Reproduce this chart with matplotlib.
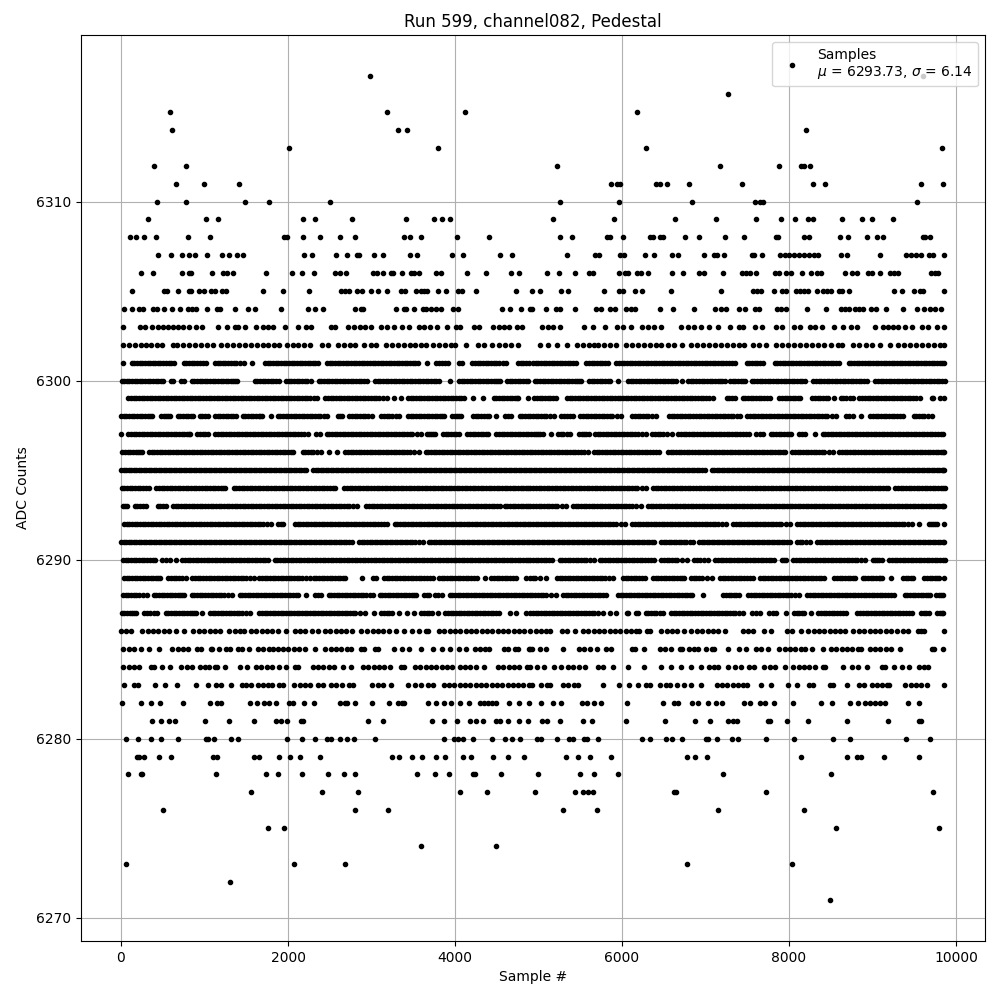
import numpy as np
import matplotlib
matplotlib.use("Agg")
import matplotlib.pyplot as plt

# sample numbers at each ADC level
s6317 = [2976, 9600]
s6316 = [7268]
s6315 = [588, 3180, 4116, 6176]
s6314 = [612, 3312, 3420, 8204]
s6313 = [2016, 3792, 6284, 9836]
s6312 = [396, 780, 5216, 7172, 7880, 8144, 8180, 8252]
s6311 = [660, 996, 1416, 5864, 5936, 5972, 6404, 6452, 6536, 6800, 7436, 8288, 8432, 9584, 9848]
s6310 = [432, 780, 1488, 1776, 2508, 5252, 5960, 6836, 7592, 7652, 7688, 9536]
s6309 = [324, 1020, 1164, 2184, 2328, 2772, 3408, 3744, 3840, 3936, 5168, 5900, 6632, 7124, 7604, 7904, 8072, 8228,
         8288, 8636, 8876, 8996, 9248]
s6308 = [108, 180, 276, 420, 804, 1068, 1956, 1992, 2184, 2388, 2628, 2808, 3392, 3456, 3588, 4020, 4404, 5252, 5396,
         5816, 5852, 6008, 6332, 6368, 6452, 6488, 6752, 6920, 7232, 7460, 7844, 7868, 8180, 8240, 8612, 8708, 8936,
         9056, 9128, 9608, 9632, 9692]
s6307 = [444, 600, 732, 816, 888, 1032, 1212, 1296, 1392, 1464, 2196, 2292, 2580, 2712, 2832, 2856, 3024, 3132, 3456,
         3540, 3960, 4092, 4536, 4680, 5336, 5672, 5720, 5972, 6020, 6272, 6380, 6596, 6668, 6980, 7100, 7136, 7220,
         7556, 7580, 7676, 7892, 7952, 8000, 8060, 8120, 8180, 8240, 8300, 8348, 8624, 8696, 9092, 9404, 9464, 9524,
         9584, 9680, 9728, 9860]
s6306 = [240, 384, 732, 816, 840, 1092, 1224, 1272, 1344, 1740, 2052, 2172, 2316, 2568, 2628, 2700, 3012, 3060, 3132,
         3228, 3252, 3360, 3468, 3504, 3564, 3768, 3828, 4140, 4368, 4668, 4764, 5096, 5240, 5432, 5600, 5648, 5960,
         6032, 6068, 6176, 6224, 6308, 6596, 6728, 6920, 6980, 7208, 7436, 7484, 7532, 7604, 7832, 7880, 7964, 8024,
         8156, 8264, 8336, 8384, 8672, 8756, 8816, 8948, 8996, 9092, 9212, 9260, 9308, 9704, 9752, 9788]
s6305 = [132, 516, 552, 684, 816, 840, 936, 996, 1080, 1128, 1212, 1260, 1704, 1944, 2256, 2640, 2688, 2736, 2832,
         2892, 2988, 3072, 3180, 3348, 3396, 3528, 3588, 3624, 3660, 3792, 3888, 4032, 4080, 4248, 4728, 4928, 5012,
         5264, 5348, 5780, 5960, 6008, 6152, 6236, 6584, 7184, 7568, 7616, 7664, 7820, 7916, 7964, 8084, 8132, 8180,
         8228, 8336, 8408, 8456, 8504, 8600, 8636, 8720, 9260, 9356, 9500, 9572, 9608, 9860]
s6304 = [36, 132, 216, 264, 384, 432, 516, 612, 708, 804, 852, 900, 1032, 1152, 1188, 1368, 1524, 1608, 1920, 2244,
         2328, 2424, 2808, 2880, 2904, 3288, 3384, 3408, 3504, 3612, 3648, 3708, 3768, 3828, 3972, 4032, 4560, 4656,
         4788, 4896, 4928, 5084, 5204, 5252, 5432, 5684, 5744, 5852, 5912, 6044, 6104, 6152, 6452, 6608, 6860, 7112,
         7184, 7244, 7400, 7472, 7592, 7640, 7856, 7904, 7964, 8216, 8448, 8624, 8672, 8720, 8792, 8840, 8888, 8984,
         9044, 9164, 9368, 9536, 9620, 9692, 9752, 9824]
s6303 = [24, 228, 288, 372, 444, 504, 564, 624, 684, 744, 816, 900, 972, 1164, 1272, 1368, 1404, 1488, 1620, 1704,
         1764, 1824, 1968, 2124, 2220, 2280, 2520, 2568, 2724, 2796, 2868, 2928, 2988, 3108, 3180, 3264, 3360, 3444,
         3564, 3624, 3696, 3780, 3900, 4008, 4056, 4224, 4284, 4452, 4524, 4584, 4644, 4740, 4800, 5036, 5108, 5168,
         5252, 5540, 5648, 5792, 5936, 6008, 6104, 6236, 6308, 6380, 6464, 6704, 6788, 6860, 6944, 7040, 7148, 7292,
         7400, 7448, 7592, 7676, 7844, 7916, 8060, 8132, 8252, 8312, 8396, 8540, 8648, 8744, 8816, 9032, 9128, 9188,
         9248, 9308, 9392, 9476, 9588, 9668, 9776, 9860]
s6302 = [24, 96, 168, 240, 300, 364, 432, 492, 624, 672, 744, 816, 888, 960, 1032, 1104, 1200, 1272, 1344, 1416, 1488,
         1560, 1632, 1704, 1764, 1836, 1896, 1992, 2064, 2124, 2196, 2268, 2412, 2484, 2604, 2676, 2748, 2808, 2916,
         2988, 3048, 3168, 3240, 3312, 3384, 3456, 3516, 3588, 3648, 3732, 3804, 3876, 3948, 3996, 4128, 4272, 4344,
         4440, 4524, 4596, 4668, 4752, 5012, 5108, 5216, 5336, 5456, 5528, 5600, 5660, 5708, 5780, 5852, 5924, 6044,
         6116, 6188, 6260, 6332, 6404, 6464, 6548, 6620, 6716, 6824, 6896, 6968, 7040, 7112, 7184, 7256, 7328, 7400,
         7460, 7568, 7640, 7724, 7844, 7916, 7988, 8060, 8132, 8204, 8276, 8348, 8420, 8504, 8588, 8636, 8768, 8840,
         8924, 8996, 9092, 9212, 9308, 9380, 9452, 9524, 9596, 9668, 9740, 9812, 9860]
s6301 = [24, 128, 190, 252, 318, 380, 440, 506, 570, 640, 752, 816, 880, 948, 1012, 1124, 1188, 1250, 1316, 1380, 1472,
         1572, 1724, 1790, 1852, 1916, 1980, 2044, 2108, 2172, 2236, 2300, 2356, 2468, 2532, 2596, 2660, 2724, 2788,
         2852, 2916, 2980, 3044, 3108, 3172, 3236, 3300, 3364, 3428, 3492, 3556, 3660, 3776, 3840, 3912, 4052, 4080,
         4208, 4272, 4336, 4400, 4464, 4528, 4612, 4756, 4820, 4884, 4932, 4996, 5060, 5124, 5188, 5252, 5316, 5380,
         5448, 5572, 5636, 5700, 5764, 5828, 5932, 5996, 6060, 6124, 6188, 6252, 6316, 6380, 6444, 6508, 6572, 6636,
         6700, 6764, 6828, 6892, 6956, 7020, 7084, 7148, 7212, 7276, 7356, 7492, 7556, 7620, 7692, 7828, 7892, 7956,
         8020, 8084, 8148, 8212, 8276, 8340, 8404, 8468, 8532, 8604, 8716, 8780, 8844, 8908, 8972, 9036, 9100, 9164,
         9228, 9292, 9356, 9420, 9484, 9548, 9612, 9676, 9740, 9804, 9856]
s6300 = [8, 70, 132, 194, 256, 320, 382, 444, 504, 596, 624, 716, 760, 848, 910, 972, 1034, 1096, 1160, 1222, 1284,
         1346, 1392, 1600, 1664, 1728, 1792, 1860, 1888, 1976, 2040, 2104, 2168, 2232, 2272, 2368, 2432, 2496, 2560,
         2624, 2688, 2752, 2816, 2880, 2952, 3040, 3104, 3168, 3232, 3296, 3360, 3424, 3488, 3552, 3616, 3680, 3744,
         3812, 3936, 4048, 4112, 4176, 4240, 4304, 4368, 4432, 4496, 4544, 4624, 4688, 4752, 4816, 4880, 4952, 5016,
         5080, 5144, 5208, 5272, 5336, 5400, 5464, 5508, 5604, 5668, 5732, 5796, 5860, 5956, 6072, 6136, 6200, 6264,
         6328, 6392, 6456, 6520, 6584, 6648, 6720, 6792, 6856, 6920, 6984, 7048, 7112, 7176, 7228, 7292, 7356, 7420,
         7468, 7552, 7616, 7680, 7744, 7808, 7872, 7936, 8000, 8064, 8128, 8188, 8292, 8356, 8420, 8484, 8548, 8612,
         8676, 8740, 8804, 8868, 8928, 9032, 9096, 9160, 9224, 9288, 9352, 9416, 9480, 9544, 9608, 9672, 9736, 9800,
         9868]
s6299 = [88, 152, 216, 280, 344, 408, 472, 536, 600, 664, 728, 792, 856, 920, 984, 1048, 1112, 1176, 1240, 1304, 1368,
         1432, 1496, 1560, 1624, 1688, 1752, 1816, 1880, 1944, 2008, 2072, 2136, 2200, 2264, 2352, 2448, 2512, 2576,
         2640, 2704, 2768, 2832, 2896, 2960, 3024, 3088, 3184, 3264, 3352, 3436, 3500, 3564, 3628, 3692, 3756, 3820,
         3884, 3948, 4012, 4076, 4112, 4212, 4332, 4464, 4528, 4592, 4656, 4720, 4760, 4880, 4948, 5012, 5076, 5140,
         5208, 5340, 5404, 5468, 5532, 5596, 5660, 5724, 5788, 5852, 5916, 5980, 6044, 6108, 6172, 6236, 6300, 6364,
         6428, 6492, 6556, 6620, 6684, 6748, 6812, 6876, 6940, 7004, 7088, 7252, 7316, 7348, 7444, 7508, 7572, 7636,
         7700, 7768, 7884, 7948, 8012, 8076, 8128, 8280, 8344, 8408, 8468, 8540, 8620, 8684, 8768, 8844, 8908, 8972,
         9036, 9100, 9164, 9228, 9292, 9356, 9420, 9484, 9568, 9712, 9728, 9812, 9860]
s6298 = [0, 64, 128, 192, 256, 320, 372, 484, 540, 592, 680, 744, 808, 864, 944, 1000, 1040, 1124, 1188, 1252, 1316,
         1372, 1456, 1520, 1584, 1648, 1692, 1792, 1876, 1940, 2004, 2068, 2132, 2196, 2260, 2324, 2388, 2464, 2596,
         2652, 2736, 2800, 2864, 2928, 3000, 3116, 3180, 3244, 3332, 3436, 3500, 3564, 3628, 3692, 3756, 3820, 3872,
         3968, 4020, 4072, 4216, 4280, 4344, 4412, 4496, 4600, 4672, 4776, 4840, 4900, 4964, 5028, 5092, 5188, 5272,
         5340, 5408, 5500, 5564, 5628, 5692, 5756, 5820, 5884, 5988, 6124, 6188, 6252, 6316, 6408, 6564, 6628, 6692,
         6756, 6820, 6884, 6948, 7012, 7076, 7140, 7204, 7268, 7332, 7412, 7500, 7564, 7628, 7692, 7756, 7820, 7884,
         7948, 8012, 8076, 8140, 8204, 8268, 8332, 8396, 8460, 8568, 8680, 8768, 8864, 8972, 9036, 9100, 9164, 9228,
         9292, 9368, 9492, 9556, 9620, 9708]
s6297 = [0, 88, 152, 216, 280, 344, 408, 472, 536, 600, 664, 728, 792, 832, 916, 980, 1040, 1128, 1192, 1256, 1320,
         1384, 1448, 1512, 1576, 1640, 1704, 1768, 1832, 1896, 1960, 2024, 2088, 2152, 2240, 2336, 2384, 2464, 2528,
         2592, 2656, 2720, 2784, 2848, 2912, 2976, 3040, 3104, 3168, 3232, 3296, 3360, 3424, 3488, 3592, 3664, 3712,
         3760, 3856, 3920, 3984, 4044, 4148, 4212, 4276, 4340, 4400, 4496, 4560, 4624, 4688, 4752, 4816, 4880, 4940,
         4996, 5048, 5144, 5232, 5296, 5380, 5484, 5548, 5600, 5676, 5740, 5804, 5868, 5932, 5996, 6060, 6124, 6188,
         6288, 6364, 6428, 6492, 6596, 6676, 6740, 6804, 6868, 6932, 6996, 7060, 7124, 7188, 7252, 7316, 7380, 7444,
         7516, 7604, 7648, 7688, 7780, 7844, 7908, 7972, 8028, 8120, 8188, 8316, 8404, 8468, 8532, 8596, 8660, 8724,
         8788, 8852, 8916, 8980, 9044, 9108, 9172, 9236, 9300, 9364, 9428, 9492, 9556, 9620, 9684, 9748, 9848]
s6296 = [16, 80, 144, 208, 248, 336, 400, 464, 528, 592, 656, 720, 784, 848, 912, 976, 1040, 1104, 1168, 1232, 1296,
         1360, 1424, 1488, 1552, 1616, 1680, 1744, 1808, 1872, 1936, 2000, 2064, 2176, 2240, 2304, 2400, 2496, 2592,
         2688, 2752, 2816, 2880, 2944, 3008, 3072, 3136, 3200, 3264, 3328, 3392, 3456, 3564, 3648, 3712, 3776, 3840,
         3904, 3968, 4032, 4096, 4160, 4224, 4288, 4352, 4416, 4480, 4544, 4608, 4672, 4736, 4800, 4864, 4928, 4992,
         5056, 5120, 5184, 5248, 5312, 5376, 5440, 5504, 5588, 5664, 5728, 5792, 5856, 5920, 5984, 6048, 6112, 6176,
         6240, 6304, 6368, 6440, 6552, 6616, 6680, 6744, 6808, 6872, 6936, 7000, 7064, 7128, 7192, 7256, 7320, 7384,
         7448, 7512, 7576, 7640, 7704, 7768, 7832, 7896, 7956, 8040, 8104, 8168, 8232, 8296, 8360, 8424, 8524, 8604,
         8668, 8732, 8796, 8860, 8924, 8988, 9052, 9116, 9180, 9244, 9308, 9372, 9436, 9500, 9564, 9628, 9692, 9756,
         9820, 9860]
s6295 = [0, 60, 120, 180, 240, 300, 360, 420, 480, 540, 600, 660, 720, 780, 840, 900, 960, 1020, 1080, 1140, 1200,
         1260, 1320, 1380, 1440, 1500, 1560, 1620, 1680, 1740, 1800, 1860, 1920, 1980, 2040, 2100, 2160, 2220, 2304,
         2364, 2424, 2484, 2544, 2604, 2664, 2724, 2784, 2844, 2904, 2964, 3024, 3084, 3144, 3204, 3264, 3324, 3384,
         3444, 3504, 3564, 3624, 3684, 3744, 3804, 3864, 3924, 3984, 4044, 4104, 4164, 4224, 4284, 4344, 4404, 4464,
         4524, 4584, 4644, 4704, 4764, 4824, 4884, 4944, 5004, 5064, 5124, 5184, 5244, 5304, 5364, 5424, 5484, 5544,
         5604, 5664, 5724, 5784, 5844, 5904, 5964, 6024, 6084, 6144, 6204, 6264, 6324, 6384, 6444, 6504, 6564, 6624,
         6684, 6744, 6804, 6864, 6924, 6988, 7072, 7132, 7192, 7252, 7312, 7372, 7432, 7492, 7552, 7612, 7672, 7732,
         7792, 7852, 7912, 7972, 8032, 8092, 8152, 8212, 8272, 8332, 8392, 8452, 8512, 8572, 8632, 8692, 8752, 8812,
         8872, 8932, 8992, 9052, 9112, 9172, 9232, 9292, 9352, 9412, 9472, 9532, 9592, 9652, 9712, 9772, 9832, 9860]
s6294 = [8, 72, 136, 200, 264, 332, 424, 488, 552, 616, 680, 744, 808, 872, 936, 1000, 1064, 1128, 1192, 1248, 1348,
         1412, 1476, 1540, 1604, 1668, 1732, 1796, 1860, 1924, 1988, 2052, 2116, 2180, 2244, 2308, 2372, 2436, 2500,
         2568, 2676, 2740, 2804, 2868, 2932, 2996, 3060, 3124, 3188, 3252, 3316, 3380, 3444, 3508, 3572, 3636, 3700,
         3764, 3828, 3892, 3956, 4020, 4084, 4148, 4212, 4276, 4340, 4404, 4468, 4532, 4596, 4660, 4724, 4788, 4852,
         4904, 4968, 5032, 5096, 5160, 5224, 5288, 5352, 5416, 5480, 5544, 5608, 5672, 5736, 5800, 5864, 5928, 5992,
         6056, 6120, 6184, 6288, 6372, 6436, 6500, 6564, 6628, 6692, 6756, 6820, 6884, 6948, 7012, 7076, 7140, 7204,
         7268, 7332, 7396, 7460, 7524, 7588, 7652, 7716, 7780, 7844, 7908, 7972, 8036, 8100, 8164, 8228, 8292, 8356,
         8420, 8484, 8548, 8612, 8676, 8740, 8804, 8868, 8932, 8996, 9060, 9124, 9188, 9272, 9336, 9400, 9464, 9528,
         9592, 9656, 9720, 9784, 9848, 9868]
s6293 = [28, 76, 164, 228, 300, 444, 500, 544, 624, 688, 752, 816, 880, 944, 1008, 1072, 1136, 1200, 1264, 1328, 1392,
         1456, 1520, 1584, 1648, 1712, 1776, 1840, 1904, 1968, 2032, 2096, 2160, 2224, 2288, 2352, 2416, 2480, 2544,
         2608, 2672, 2736, 2824, 2936, 3000, 3064, 3128, 3192, 3256, 3320, 3384, 3448, 3512, 3576, 3640, 3704, 3768,
         3832, 3896, 3960, 4024, 4088, 4152, 4216, 4280, 4344, 4408, 4472, 4544, 4596, 4660, 4724, 4788, 4852, 4904,
         4968, 5032, 5096, 5160, 5224, 5328, 5412, 5476, 5540, 5604, 5668, 5732, 5796, 5860, 5924, 5988, 6052, 6116,
         6228, 6312, 6376, 6440, 6504, 6568, 6632, 6696, 6760, 6824, 6888, 6952, 7016, 7080, 7144, 7208, 7272, 7336,
         7400, 7464, 7528, 7592, 7656, 7720, 7784, 7848, 7912, 7976, 8040, 8104, 8168, 8232, 8296, 8360, 8424, 8488,
         8552, 8616, 8680, 8744, 8808, 8872, 8936, 9000, 9064, 9128, 9192, 9256, 9320, 9384, 9448, 9512, 9576, 9640,
         9704, 9768, 9832, 9860]
s6292 = [36, 100, 164, 228, 292, 356, 420, 484, 548, 612, 676, 740, 804, 868, 932, 996, 1060, 1124, 1188, 1252, 1316,
         1380, 1444, 1508, 1572, 1636, 1700, 1796, 1884, 1944, 2084, 2148, 2212, 2276, 2340, 2404, 2468, 2532, 2596,
         2660, 2724, 2788, 2852, 2916, 2980, 3044, 3108, 3184, 3276, 3340, 3404, 3468, 3532, 3596, 3660, 3724, 3788,
         3852, 3916, 3980, 4044, 4108, 4172, 4236, 4300, 4364, 4428, 4492, 4556, 4620, 4684, 4748, 4812, 4876, 4900,
         4964, 5028, 5092, 5156, 5220, 5284, 5348, 5412, 5476, 5540, 5604, 5668, 5732, 5796, 5860, 5924, 6040, 6124,
         6188, 6252, 6316, 6380, 6444, 6508, 6572, 6636, 6700, 6764, 6828, 6892, 6956, 7020, 7084, 7148, 7248, 7332,
         7396, 7460, 7524, 7588, 7652, 7716, 7780, 7844, 7908, 8008, 8100, 8164, 8228, 8292, 8356, 8420, 8484, 8548,
         8612, 8676, 8740, 8804, 8868, 8932, 8996, 9060, 9124, 9188, 9252, 9316, 9380, 9468, 9552, 9676, 9724, 9772,
         9860]
s6291 = [0, 60, 120, 180, 240, 300, 360, 420, 480, 540, 600, 660, 720, 780, 840, 900, 960, 1020, 1080, 1140, 1200,
         1260, 1320, 1380, 1440, 1500, 1560, 1620, 1680, 1740, 1800, 1860, 1920, 1980, 2040, 2100, 2160, 2220, 2280,
         2340, 2400, 2460, 2520, 2580, 2640, 2700, 2772, 2856, 2916, 2976, 3036, 3096, 3156, 3216, 3276, 3336, 3396,
         3456, 3516, 3612, 3688, 3748, 3808, 3868, 3928, 3988, 4048, 4108, 4168, 4228, 4288, 4348, 4408, 4468, 4528,
         4588, 4648, 4708, 4768, 4828, 4888, 4948, 5008, 5068, 5128, 5188, 5248, 5308, 5368, 5428, 5488, 5548, 5608,
         5668, 5728, 5788, 5848, 5908, 5968, 6028, 6088, 6148, 6208, 6268, 6328, 6388, 6472, 6532, 6592, 6652, 6712,
         6772, 6848, 6924, 6984, 7044, 7104, 7164, 7224, 7284, 7344, 7404, 7464, 7524, 7584, 7644, 7704, 7764, 7824,
         7884, 7944, 8008, 8100, 8160, 8248, 8340, 8400, 8460, 8520, 8580, 8640, 8700, 8760, 8820, 8880, 8940, 9000,
         9060, 9120, 9180, 9240, 9300, 9360, 9420, 9480, 9540, 9600, 9660, 9720, 9780, 9840, 9860]
s6290 = [24, 88, 152, 216, 280, 344, 412, 492, 592, 656, 736, 800, 864, 928, 992, 1056, 1120, 1184, 1248, 1312, 1376,
         1440, 1504, 1568, 1632, 1696, 1760, 1840, 1904, 1968, 2032, 2096, 2160, 2224, 2288, 2352, 2416, 2480, 2544,
         2608, 2672, 2736, 2800, 2864, 2928, 2992, 3056, 3120, 3184, 3248, 3312, 3376, 3440, 3504, 3568, 3632, 3696,
         3760, 3824, 3888, 3952, 4016, 4080, 4144, 4208, 4272, 4336, 4400, 4464, 4528, 4592, 4656, 4720, 4784, 4848,
         4900, 4964, 5028, 5092, 5156, 5252, 5316, 5380, 5444, 5508, 5572, 5660, 5732, 5796, 5860, 5924, 5988, 6052,
         6116, 6180, 6244, 6308, 6388, 6472, 6536, 6600, 6664, 6776, 6864, 6928, 7028, 7116, 7180, 7244, 7308, 7372,
         7436, 7500, 7564, 7628, 7692, 7756, 7820, 7912, 7968, 8052, 8116, 8180, 8244, 8308, 8372, 8436, 8500, 8564,
         8628, 8692, 8756, 8820, 8908, 9000, 9056, 9108, 9200, 9264, 9328, 9392, 9456, 9520, 9584, 9648, 9712, 9776,
         9840, 9868]
s6289 = [36, 100, 164, 228, 292, 356, 420, 464, 568, 632, 696, 776, 856, 920, 984, 1048, 1112, 1176, 1240, 1304, 1368,
         1432, 1496, 1592, 1656, 1720, 1784, 1848, 1912, 1976, 2040, 2104, 2168, 2264, 2308, 2372, 2436, 2500, 2564,
         2628, 2688, 2892, 3016, 3052, 3148, 3212, 3276, 3340, 3404, 3468, 3532, 3596, 3660, 3732, 3808, 3872, 3936,
         4000, 4064, 4128, 4192, 4264, 4356, 4436, 4500, 4564, 4628, 4692, 4732, 4848, 4900, 4960, 5020, 5088, 5220,
         5284, 5348, 5412, 5476, 5540, 5604, 5668, 5732, 5796, 5888, 6012, 6076, 6140, 6204, 6276, 6372, 6436, 6500,
         6564, 6628, 6692, 6740, 6828, 6892, 6956, 7076, 7172, 7236, 7300, 7364, 7428, 7492, 7568, 7652, 7716, 7780,
         7844, 7908, 7972, 8036, 8100, 8164, 8228, 8292, 8356, 8420, 8544, 8608, 8672, 8736, 8788, 8880, 8944, 9008,
         9072, 9116, 9220, 9364, 9428, 9488, 9620, 9684, 9748, 9796, 9860]
s6288 = [24, 88, 152, 216, 312, 392, 456, 520, 584, 648, 712, 760, 848, 912, 976, 1040, 1104, 1168, 1232, 1332, 1420,
         1484, 1548, 1612, 1676, 1740, 1804, 1868, 1932, 1996, 2060, 2124, 2220, 2320, 2400, 2488, 2552, 2616, 2680,
         2744, 2808, 2872, 2936, 3016, 3096, 3160, 3224, 3288, 3352, 3416, 3480, 3528, 3628, 3692, 3756, 3840, 3936,
         4000, 4064, 4128, 4192, 4256, 4320, 4384, 4448, 4512, 4576, 4640, 4704, 4768, 4832, 4896, 4960, 5024, 5088,
         5208, 5292, 5356, 5420, 5484, 5548, 5612, 5676, 5740, 5808, 5952, 6016, 6080, 6144, 6208, 6272, 6336, 6400,
         6464, 6528, 6592, 6656, 6720, 6784, 6840, 6972, 7212, 7276, 7340, 7396, 7512, 7576, 7640, 7704, 7768, 7832,
         7896, 7960, 8024, 8120, 8220, 8284, 8348, 8412, 8476, 8540, 8604, 8668, 8732, 8796, 8860, 8924, 8988, 9052,
         9116, 9180, 9260, 9384, 9448, 9512, 9576, 9640, 9688, 9760, 9848]
s6287 = [8, 72, 136, 184, 280, 344, 436, 536, 600, 664, 728, 792, 856, 900, 972, 1064, 1128, 1192, 1256, 1320, 1384,
         1448, 1540, 1656, 1720, 1784, 1848, 1912, 1976, 2040, 2104, 2168, 2232, 2296, 2360, 2424, 2488, 2552, 2616,
         2680, 2744, 2808, 2920, 3024, 3116, 3180, 3244, 3332, 3424, 3508, 3596, 3660, 3724, 3792, 3884, 3948, 4012,
         4076, 4140, 4204, 4268, 4332, 4396, 4460, 4532, 4656, 4728, 4848, 4900, 4964, 5028, 5092, 5156, 5220, 5284,
         5348, 5412, 5476, 5540, 5604, 5668, 5768, 5860, 5928, 6060, 6068, 6172, 6188, 6284, 6348, 6412, 6496, 6588,
         6652, 6716, 6780, 6844, 6908, 6972, 7036, 7100, 7164, 7228, 7292, 7356, 7448, 7552, 7648, 7760, 7848, 7960,
         8060, 8124, 8180, 8268, 8352, 8416, 8480, 8544, 8608, 8688, 8820, 8884, 8948, 9012, 9076, 9140, 9204, 9268,
         9332, 9396, 9468, 9580, 9644, 9680, 9772, 9848]
s6286 = [0, 60, 120, 256, 320, 384, 448, 512, 576, 664, 752, 868, 932, 996, 1060, 1124, 1188, 1292, 1368, 1420, 1472,
         1556, 1620, 1684, 1748, 1812, 1876, 1972, 2084, 2140, 2200, 2288, 2360, 2444, 2508, 2572, 2636, 2700, 2764,
         2872, 2948, 3012, 3076, 3140, 3204, 3292, 3392, 3484, 3564, 3648, 3672, 3808, 3872, 3936, 4000, 4064, 4128,
         4192, 4256, 4320, 4384, 4448, 4512, 4576, 4640, 4704, 4768, 4832, 4896, 4964, 5028, 5092, 5140, 5284, 5340,
         5432, 5532, 5596, 5660, 5724, 5788, 5852, 5916, 5980, 6044, 6108, 6168, 6200, 6304, 6340, 6472, 6536, 6600,
         6664, 6748, 6832, 6896, 6960, 7024, 7088, 7152, 7228, 7444, 7508, 7568, 7700, 7788, 7972, 8036, 8148, 8232,
         8296, 8360, 8424, 8488, 8552, 8616, 8668, 8772, 8836, 8900, 8964, 9028, 9092, 9156, 9220, 9288, 9364, 9420,
         9540, 9580, 9620, 9860]
s6285 = [28, 92, 156, 244, 336, 456, 616, 680, 744, 808, 916, 964, 1080, 1092, 1176, 1256, 1308, 1396, 1452, 1536,
         1640, 1704, 1768, 1824, 1876, 1940, 2004, 2068, 2132, 2200, 2324, 2448, 2512, 2576, 2640, 2704, 2752, 2876,
         2912, 3040, 3080, 3264, 3360, 3444, 3588, 3736, 3840, 3936, 4048, 4128, 4236, 4300, 4364, 4412, 4592, 4640,
         4716, 4760, 4884, 4900, 4928, 5020, 5088, 5288, 5484, 5548, 5612, 5696, 5804, 5870, 6120, 6156, 6268, 6452,
         6516, 6588, 6700, 6716, 6804, 6860, 6908, 7000, 7072, 7100, 7268, 7400, 7480, 7604, 7660, 7748, 7884, 7948,
         8012, 8076, 8140, 8196, 8280, 8412, 8504, 8568, 8632, 8696, 8760, 8824, 8868, 8964, 9028, 9092, 9156, 9216,
         9332, 9712, 9740, 9840]
s6284 = [28, 92, 156, 220, 364, 396, 492, 588, 724, 788, 856, 944, 1000, 1048, 1128, 1152, 1248, 1424, 1512, 1616,
         1680, 1744, 1808, 1888, 1980, 2088, 2116, 2296, 2360, 2424, 2488, 2552, 2664, 2760, 2896, 2960, 3024, 3088,
         3152, 3224, 3356, 3384, 3520, 3584, 3648, 3712, 3776, 3840, 3900, 3960, 4056, 4120, 4184, 4248, 4344, 4516,
         4580, 4644, 4708, 4772, 4864, 4900, 4984, 5068, 5184, 5268, 5352, 5416, 5480, 5556, 5712, 5776, 5888, 6068,
         6260, 6464, 6584, 6704, 6824, 6940, 7044, 7100, 7148, 7272, 7348, 7424, 7524, 7576, 7704, 7768, 7828, 7952,
         8052, 8116, 8180, 8244, 8308, 8412, 8428, 8648, 8752, 8828, 8932, 9108, 9148, 9260, 9352, 9436, 9560, 9612,
         9664]
s6283 = [36, 156, 204, 408, 528, 668, 900, 1044, 1140, 1200, 1320, 1444, 1500, 1552, 1636, 1700, 1764, 1812, 1892,
         1944, 2076, 2140, 2204, 2268, 2364, 2424, 2520, 2580, 2652, 2736, 2784, 3000, 3080, 3140, 3228, 3436, 3520,
         3588, 3672, 3736, 3864, 3928, 3992, 4056, 4120, 4184, 4248, 4312, 4376, 4440, 4504, 4568, 4632, 4696, 4760,
         4816, 4884, 4928, 5032, 5096, 5140, 5292, 5356, 5420, 5476, 5768, 5960, 6084, 6188, 6292, 6332, 6460, 6532,
         6572, 6656, 6740, 6828, 6944, 7132, 7196, 7260, 7324, 7388, 7452, 7492, 7660, 7788, 7988, 8096, 8240, 8284,
         8492, 8532, 8700, 8836, 8892, 8996, 9052, 9112, 9172, 9192, 9392, 9456, 9520, 9584, 9652, 9860]
s6282 = [12, 240, 360, 468, 744, 1068, 1152, 1200, 1540, 1624, 1708, 1776, 1860, 2016, 2064, 2196, 2316, 2628, 2688,
         2712, 2804, 3000, 3204, 3316, 3360, 3384, 3672, 3768, 3864, 3948, 4056, 4164, 4296, 4344, 4392, 4444, 4492,
         4644, 4764, 4884, 5024, 5168, 5264, 5516, 5576, 5660, 5744, 6056, 6496, 6620, 6668, 6836, 6908, 7028, 7124,
         7196, 7460, 7532, 7652, 7712, 7820, 8048, 8388, 8516, 8732, 8828, 8912, 8972, 9032, 9092, 9152, 9428, 9560]
s6281 = [372, 480, 576, 648, 1008, 1296, 1588, 1860, 1920, 1992, 2160, 2184, 2964, 3132, 3720, 3864, 4020, 4176, 4248,
         4332, 4488, 4536, 4632, 4764, 4872, 5044, 5100, 5252, 5528, 5636, 6044, 6512, 6872, 7052, 7268, 7328, 7380,
         7748, 7772, 7976, 8228, 8696, 9188, 9560, 9584]
s6280 = [60, 204, 360, 480, 684, 1020, 1044, 1116, 1320, 1404, 1992, 2172, 2328, 2472, 2520, 2628, 2712, 2796, 3036,
         3864, 3984, 4032, 4092, 4212, 4440, 4596, 4684, 4780, 4976, 5024, 5216, 5360, 5408, 5540, 5576, 5708, 6236,
         6332, 6524, 6596, 6716, 7004, 7028, 7136, 7316, 7388, 7724, 8060, 8528, 8732, 9404, 9692]
s6279 = [192, 216, 276, 456, 600, 1104, 1152, 1596, 1656, 1896, 2028, 2148, 2388, 3240, 3324, 3480, 3600, 3768, 3876,
         4092, 4188, 4452, 4632, 4824, 5328, 5468, 5612, 5864, 6776, 6872, 7016, 8144, 8696, 8816, 8864, 9140, 9560]
s6278 = [84, 240, 252, 1140, 1740, 1884, 2172, 2484, 2676, 2808, 3540, 3756, 3924, 4212, 4236, 4548, 4988, 5492, 5660,
         5948, 7208, 8504]
s6277 = [1560, 2412, 2844, 4056, 4380, 4952, 5432, 5528, 5588, 5648, 6620, 6644, 7724, 9728]
s6276 = [504, 2808, 3192, 5288, 5696, 7148, 8180]
s6275 = [1764, 1956, 8564, 9800]
s6274 = [3588, 4488]
s6273 = [60, 2076, 2688, 6776, 8036]
s6272 = [1308]
s6271 = [8492]

# further samples packed into the solid runs of the busiest levels
d6301 = [160, 222, 285, 350, 412, 472, 538, 604, 784, 848, 914, 980, 1156, 1220, 1284, 1348, 1426, 1756, 1820, 1884,
         1948, 2012, 2076, 2140, 2204, 2268, 2328, 2500, 2564, 2628, 2692, 2756, 2820, 2884, 2948, 3012, 3076, 3140,
         3204, 3268, 3332, 3396, 3460, 3524, 3808, 3876, 4240, 4304, 4368, 4432, 4496, 4570, 4788, 4852, 4964, 5028,
         5092, 5156, 5220, 5284, 5348, 5414, 5604, 5668, 5732, 5796, 5964, 6028, 6092, 6156, 6220, 6284, 6348, 6412,
         6476, 6540, 6604, 6668, 6732, 6796, 6860, 6924, 6988, 7052, 7116, 7180, 7244, 7316, 7524, 7588, 7656, 7860,
         7924, 7988, 8052, 8116, 8180, 8244, 8308, 8372, 8436, 8500, 8568, 8748, 8812, 8876, 8940, 9004, 9068, 9132,
         9196, 9260, 9324, 9388, 9452, 9516, 9580, 9644, 9708, 9772, 9830]
d6300 = [40, 100, 164, 226, 288, 350, 414, 474, 880, 942, 1004, 1066, 1128, 1192, 1254, 1316, 1370, 1632, 1696, 1760,
         1824, 2008, 2072, 2136, 2200, 2400, 2464, 2528, 2592, 2656, 2720, 2784, 2848, 2916, 3072, 3136, 3200, 3264,
         3328, 3392, 3456, 3520, 3584, 3648, 3712, 3778, 4080, 4144, 4208, 4272, 4336, 4400, 4464, 4520, 4656, 4720,
         4784, 4848, 4984, 5048, 5112, 5176, 5240, 5304, 5368, 5432, 5486, 5636, 5700, 5764, 5828, 6104, 6168, 6232,
         6296, 6360, 6424, 6488, 6552, 6616, 6824, 6888, 6952, 7016, 7080, 7144, 7202, 7324, 7388, 7444, 7584, 7648,
         7712, 7776, 7840, 7904, 7968, 8032, 8096, 8158, 8324, 8388, 8452, 8516, 8580, 8644, 8708, 8772, 8836, 8898,
         9064, 9128, 9192, 9256, 9320, 9384, 9448, 9512, 9576, 9640, 9704, 9768, 9834]
d6299 = [120, 184, 248, 312, 376, 440, 504, 568, 632, 696, 760, 824, 888, 952, 1016, 1080, 1144, 1208, 1272, 1336,
         1400, 1464, 1528, 1592, 1656, 1720, 1784, 1848, 1912, 1976, 2040, 2104, 2168, 2232, 2308, 2480, 2544, 2608,
         2672, 2736, 2800, 2864, 2928, 2992, 3056, 3136, 3468, 3532, 3596, 3660, 3724, 3788, 3852, 3916, 3980, 4044,
         4496, 4560, 4624, 4688, 4740, 4980, 5044, 5108, 5172, 5372, 5436, 5500, 5564, 5628, 5692, 5756, 5820, 5884,
         5948, 6012, 6076, 6140, 6204, 6268, 6332, 6396, 6460, 6524, 6588, 6652, 6716, 6780, 6844, 6908, 6972, 7046,
         7284, 7476, 7540, 7604, 7668, 7734, 7916, 7980, 8044, 8102, 8312, 8376, 8438, 8652, 8726, 8876, 8940, 9004,
         9068, 9132, 9196, 9260, 9324, 9388, 9452, 9526]
d6298 = [32, 96, 160, 224, 288, 346, 512, 566, 712, 776, 836, 972, 1156, 1220, 1284, 1344, 1488, 1552, 1616, 1670,
         1908, 1972, 2036, 2100, 2164, 2228, 2292, 2356, 2426, 2624, 2768, 2832, 2896, 2964, 3148, 3212, 3288, 3468,
         3532, 3596, 3660, 3724, 3788, 3846, 3994, 4046, 4248, 4312, 4378, 4636, 4808, 4870, 4932, 4996, 5060, 5140,
         5306, 5374, 5532, 5596, 5660, 5724, 5788, 5852, 5936, 6156, 6220, 6284, 6362, 6596, 6660, 6724, 6788, 6852,
         6916, 6980, 7044, 7108, 7172, 7236, 7300, 7372, 7532, 7596, 7660, 7724, 7788, 7852, 7916, 7980, 8044, 8108,
         8172, 8236, 8300, 8364, 8428, 8514, 8724, 9004, 9068, 9132, 9196, 9260, 9330, 9524, 9588, 9664]
d6297 = [120, 184, 248, 312, 376, 440, 504, 568, 632, 696, 760, 812, 948, 1010, 1160, 1224, 1288, 1352, 1416, 1480,
         1544, 1608, 1672, 1736, 1800, 1864, 1928, 1992, 2056, 2120, 2196, 2496, 2560, 2624, 2688, 2752, 2816, 2880,
         2944, 3008, 3072, 3136, 3200, 3264, 3328, 3392, 3456, 3540, 3688, 3736, 3888, 3952, 4014, 4180, 4244, 4308,
         4370, 4528, 4592, 4656, 4720, 4784, 4848, 4910, 4968, 5022, 5264, 5338, 5516, 5574, 5708, 5772, 5836, 5900,
         5964, 6028, 6092, 6156, 6238, 6396, 6460, 6544, 6708, 6772, 6836, 6900, 6964, 7028, 7092, 7156, 7220, 7284,
         7348, 7412, 7480, 7812, 7876, 7940, 8000, 8154, 8436, 8500, 8564, 8628, 8692, 8756, 8820, 8884, 8948, 9012,
         9076, 9140, 9204, 9268, 9332, 9396, 9460, 9524, 9588, 9652, 9716, 9780, 9816]
d6296 = [48, 112, 176, 228, 368, 432, 496, 560, 624, 688, 752, 816, 880, 944, 1008, 1072, 1136, 1200, 1264, 1328,
         1392, 1456, 1520, 1584, 1648, 1712, 1776, 1840, 1904, 1968, 2032, 2208, 2272, 2352, 2720, 2784, 2848, 2912,
         2976, 3040, 3104, 3168, 3232, 3296, 3360, 3424, 3510, 3680, 3744, 3808, 3872, 3936, 4000, 4064, 4128, 4192,
         4256, 4320, 4384, 4448, 4512, 4576, 4640, 4704, 4768, 4832, 4896, 4960, 5024, 5088, 5152, 5216, 5280, 5344,
         5408, 5472, 5546, 5696, 5760, 5824, 5888, 5952, 6016, 6080, 6144, 6208, 6272, 6336, 6404, 6584, 6648, 6712,
         6776, 6840, 6904, 6968, 7032, 7096, 7160, 7224, 7288, 7352, 7416, 7480, 7544, 7608, 7672, 7736, 7800, 7864,
         7926, 8072, 8136, 8200, 8264, 8328, 8392, 8474, 8636, 8700, 8764, 8828, 8892, 8956, 9020, 9084, 9148, 9212,
         9276, 9340, 9404, 9468, 9532, 9596, 9660, 9724, 9788, 9840]
d6295 = [30, 90, 150, 210, 270, 330, 390, 450, 510, 570, 630, 690, 750, 810, 870, 930, 990, 1050, 1110, 1170, 1230,
         1290, 1350, 1410, 1470, 1530, 1590, 1650, 1710, 1770, 1830, 1890, 1950, 2010, 2070, 2130, 2190, 2334, 2394,
         2454, 2514, 2574, 2634, 2694, 2754, 2814, 2874, 2934, 2994, 3054, 3114, 3174, 3234, 3294, 3354, 3414, 3474,
         3534, 3594, 3654, 3714, 3774, 3834, 3894, 3954, 4014, 4074, 4134, 4194, 4254, 4314, 4374, 4434, 4494, 4554,
         4614, 4674, 4734, 4794, 4854, 4914, 4974, 5034, 5094, 5154, 5214, 5274, 5334, 5394, 5454, 5514, 5574, 5634,
         5694, 5754, 5814, 5874, 5934, 5994, 6054, 6114, 6174, 6234, 6294, 6354, 6414, 6474, 6534, 6594, 6654, 6714,
         6774, 6834, 6894, 6956, 7102, 7162, 7222, 7282, 7342, 7402, 7462, 7522, 7582, 7642, 7702, 7762, 7822, 7882,
         7942, 8002, 8062, 8122, 8182, 8242, 8302, 8362, 8422, 8482, 8542, 8602, 8662, 8722, 8782, 8842, 8902, 8962,
         9022, 9082, 9142, 9202, 9262, 9322, 9382, 9442, 9502, 9562, 9622, 9682, 9742, 9802, 9846]
d6294 = [40, 104, 168, 232, 298, 456, 520, 584, 648, 712, 776, 840, 904, 968, 1032, 1096, 1160, 1220, 1380, 1444, 1508,
         1572, 1636, 1700, 1764, 1828, 1892, 1956, 2020, 2084, 2148, 2212, 2276, 2340, 2404, 2468, 2534, 2708, 2772,
         2836, 2900, 2964, 3028, 3092, 3156, 3220, 3284, 3348, 3412, 3476, 3540, 3604, 3668, 3732, 3796, 3860, 3924,
         3988, 4052, 4116, 4180, 4244, 4308, 4372, 4436, 4500, 4564, 4628, 4692, 4756, 4820, 4880, 4936, 5000, 5064,
         5128, 5192, 5256, 5320, 5384, 5448, 5512, 5576, 5640, 5704, 5768, 5832, 5896, 5960, 6024, 6088, 6152, 6236,
         6404, 6468, 6532, 6596, 6660, 6724, 6788, 6852, 6916, 6980, 7044, 7108, 7172, 7236, 7300, 7364, 7428, 7492,
         7556, 7620, 7684, 7748, 7812, 7876, 7940, 8004, 8068, 8132, 8196, 8260, 8324, 8388, 8452, 8516, 8580, 8644,
         8708, 8772, 8836, 8900, 8964, 9028, 9092, 9156, 9304, 9368, 9432, 9496, 9560, 9624, 9688, 9752, 9816]
d6293 = [52, 196, 264, 472, 656, 720, 784, 848, 912, 976, 1040, 1104, 1168, 1232, 1296, 1360, 1424, 1488, 1552, 1616,
         1680, 1744, 1808, 1872, 1936, 2000, 2064, 2128, 2192, 2256, 2320, 2384, 2448, 2512, 2576, 2640, 2704, 2780,
         2968, 3032, 3096, 3160, 3224, 3288, 3352, 3416, 3480, 3544, 3608, 3672, 3736, 3800, 3864, 3928, 3992, 4056,
         4120, 4184, 4248, 4312, 4376, 4440, 4508, 4628, 4692, 4756, 4820, 4878, 4936, 5000, 5064, 5128, 5192, 5276,
         5444, 5508, 5572, 5636, 5700, 5764, 5828, 5892, 5956, 6020, 6084, 6172, 6344, 6408, 6472, 6536, 6600, 6664,
         6728, 6792, 6856, 6920, 6984, 7048, 7112, 7176, 7240, 7304, 7368, 7432, 7496, 7560, 7624, 7688, 7752, 7816,
         7880, 7944, 8008, 8072, 8136, 8200, 8264, 8328, 8392, 8456, 8520, 8584, 8648, 8712, 8776, 8840, 8904, 8968,
         9032, 9096, 9160, 9224, 9288, 9352, 9416, 9480, 9544, 9608, 9672, 9736, 9800, 9846]
d6292 = [68, 132, 196, 260, 324, 388, 452, 516, 580, 644, 708, 772, 836, 900, 964, 1028, 1092, 1156, 1220, 1284, 1348,
         1412, 1476, 1540, 1604, 1668, 1748, 1914, 2116, 2180, 2244, 2308, 2372, 2436, 2500, 2564, 2628, 2692, 2756,
         2820, 2884, 2948, 3012, 3076, 3146, 3308, 3372, 3436, 3500, 3564, 3628, 3692, 3756, 3820, 3884, 3948, 4012,
         4076, 4140, 4204, 4268, 4332, 4396, 4460, 4524, 4588, 4652, 4716, 4780, 4844, 4932, 4996, 5060, 5124, 5188,
         5252, 5316, 5380, 5444, 5508, 5572, 5636, 5700, 5764, 5828, 5892, 5982, 6156, 6220, 6284, 6348, 6412, 6476,
         6540, 6604, 6668, 6732, 6796, 6860, 6924, 6988, 7052, 7116, 7198, 7364, 7428, 7492, 7556, 7620, 7684, 7748,
         7812, 7876, 7958, 8132, 8196, 8260, 8324, 8388, 8452, 8516, 8580, 8644, 8708, 8772, 8836, 8900, 8964, 9028,
         9092, 9156, 9220, 9284, 9348, 9424, 9700, 9748]
d6291 = [30, 90, 150, 210, 270, 330, 390, 450, 510, 570, 630, 690, 750, 810, 870, 930, 990, 1050, 1110, 1170, 1230,
         1290, 1350, 1410, 1470, 1530, 1590, 1650, 1710, 1770, 1830, 1890, 1950, 2010, 2070, 2130, 2190, 2250, 2310,
         2370, 2430, 2490, 2550, 2610, 2670, 2736, 2886, 2946, 3006, 3066, 3126, 3186, 3246, 3306, 3366, 3426, 3486,
         3564, 3718, 3778, 3838, 3898, 3958, 4018, 4078, 4138, 4198, 4258, 4318, 4378, 4438, 4498, 4558, 4618, 4678,
         4738, 4798, 4858, 4918, 4978, 5038, 5098, 5158, 5218, 5278, 5338, 5398, 5458, 5518, 5578, 5638, 5698, 5758,
         5818, 5878, 5938, 5998, 6058, 6118, 6178, 6238, 6298, 6358, 6502, 6562, 6622, 6682, 6742, 6810, 6954, 7014,
         7074, 7134, 7194, 7254, 7314, 7374, 7434, 7494, 7554, 7614, 7674, 7734, 7794, 7854, 7914, 7976, 8130, 8204,
         8370, 8430, 8490, 8550, 8610, 8670, 8730, 8790, 8850, 8910, 8970, 9030, 9090, 9150, 9210, 9270, 9330, 9390,
         9450, 9510, 9570, 9630, 9690, 9750, 9810]
d6290 = [56, 120, 184, 248, 312, 378, 542, 768, 832, 896, 960, 1024, 1088, 1152, 1216, 1280, 1344, 1408, 1472, 1536,
         1600, 1664, 1728, 1872, 1936, 2000, 2064, 2128, 2192, 2256, 2320, 2384, 2448, 2512, 2576, 2640, 2704, 2768,
         2832, 2896, 2960, 3024, 3088, 3152, 3216, 3280, 3344, 3408, 3472, 3536, 3600, 3664, 3728, 3792, 3856, 3920,
         3984, 4048, 4112, 4176, 4240, 4304, 4368, 4432, 4496, 4560, 4624, 4688, 4752, 4816, 4874, 4932, 4996, 5060,
         5124, 5284, 5348, 5412, 5476, 5540, 5616, 5764, 5828, 5892, 5956, 6020, 6084, 6148, 6212, 6276, 6348, 6504,
         6568, 6632, 6720, 6896, 6978, 7148, 7212, 7276, 7340, 7404, 7468, 7532, 7596, 7660, 7724, 7788, 7940, 8084,
         8148, 8212, 8276, 8340, 8404, 8468, 8532, 8596, 8660, 8724, 8788, 8864, 9028, 9082, 9232, 9296, 9360, 9424,
         9488, 9552, 9616, 9680, 9744, 9808]
d6289 = [68, 132, 196, 260, 324, 388, 442, 600, 664, 736, 888, 952, 1016, 1080, 1144, 1208, 1272, 1336, 1400, 1464,
         1544, 1688, 1752, 1816, 1880, 1944, 2008, 2072, 2136, 2216, 2340, 2404, 2468, 2532, 2596, 2658, 3180, 3244,
         3308, 3372, 3436, 3500, 3564, 3628, 3696, 3840, 3904, 3968, 4032, 4096, 4160, 4228, 4468, 4532, 4596, 4660,
         4930, 5252, 5316, 5380, 5444, 5508, 5572, 5636, 5700, 5764, 5840, 6044, 6108, 6172, 6240, 6404, 6468, 6532,
         6596, 6660, 6716, 6860, 6924, 7016, 7204, 7268, 7332, 7396, 7460, 7530, 7684, 7748, 7812, 7876, 7940, 8004,
         8068, 8132, 8196, 8260, 8324, 8388, 8576, 8640, 8704, 8762, 8912, 8976, 9040, 9094, 9396, 9460, 9652, 9716,
         9772]
d6288 = [56, 120, 184, 264, 424, 488, 552, 616, 680, 736, 880, 944, 1008, 1072, 1136, 1200, 1282, 1452, 1516, 1580,
         1644, 1708, 1772, 1836, 1900, 1964, 2028, 2092, 2360, 2520, 2584, 2648, 2712, 2776, 2840, 2904, 2976, 3128,
         3192, 3256, 3320, 3384, 3448, 3504, 3660, 3798, 3968, 4032, 4096, 4160, 4224, 4288, 4352, 4416, 4480, 4544,
         4608, 4672, 4736, 4800, 4864, 4928, 4992, 5056, 5148, 5324, 5388, 5452, 5516, 5580, 5644, 5708, 5774, 5984,
         6048, 6112, 6176, 6240, 6304, 6368, 6432, 6496, 6560, 6624, 6688, 6752, 6812, 7244, 7308, 7368, 7544, 7608,
         7672, 7736, 7800, 7864, 7928, 7992, 8072, 8252, 8316, 8380, 8444, 8508, 8572, 8636, 8700, 8764, 8828, 8892,
         8956, 9020, 9084, 9148, 9220, 9416, 9480, 9544, 9608, 9664, 9792, 9820]
d6287 = [40, 104, 160, 312, 392, 568, 632, 696, 760, 824, 878, 1096, 1160, 1224, 1288, 1352, 1416, 1494, 1688, 1752,
         1816, 1880, 1944, 2008, 2072, 2136, 2200, 2264, 2328, 2392, 2456, 2520, 2584, 2648, 2712, 2776, 2864, 3148,
         3212, 3628, 3692, 3916, 3980, 4044, 4108, 4172, 4236, 4300, 4364, 4428, 4496, 4932, 4996, 5060, 5124, 5188,
         5252, 5316, 5380, 5444, 5508, 5572, 5636, 5718, 6316, 6380, 6454, 6620, 6684, 6748, 6812, 6876, 6940, 7004,
         7068, 7132, 7196, 7260, 7324, 7400, 7600, 7804, 8092, 8152, 8384, 8448, 8512, 8576, 8648, 8852, 8916, 8980,
         9044, 9108, 9172, 9236, 9300, 9364, 9432, 9612, 9804, 9830]

levels = [s6271, s6272, s6273, s6274, s6275, s6276, s6277, s6278, s6279, s6280, s6281, s6282, s6283, s6284, s6285,
          s6286, s6287 + d6287, s6288 + d6288, s6289 + d6289, s6290 + d6290, s6291 + d6291, s6292 + d6292,
          s6293 + d6293, s6294 + d6294, s6295 + d6295, s6296 + d6296, s6297 + d6297, s6298 + d6298, s6299 + d6299,
          s6300 + d6300, s6301 + d6301, s6302, s6303, s6304, s6305, s6306, s6307, s6308, s6309, s6310, s6311, s6312,
          s6313, s6314, s6315, s6316, s6317]
lowest_level = 6271

x = np.concatenate(levels)
y = np.concatenate([np.full(len(s), lowest_level + i) for i, s in enumerate(levels)])

fig, ax = plt.subplots(figsize=(10, 10))
ax.plot(x, y, "k.", label="Samples\n$\\mu$ = 6293.73, $\\sigma$ = 6.14")
ax.set_xlabel("Sample #")
ax.set_ylabel("ADC Counts")
ax.set_title("Run 599, channel082, Pedestal")
ax.set_xlim(-479, 10347)
ax.set_xticks([0, 2000, 4000, 6000, 8000, 10000])
ax.set_yticks([6270, 6280, 6290, 6300, 6310])
ax.ticklabel_format(useOffset=False, style="plain")
ax.grid(True)
ax.legend(loc="upper right")
fig.subplots_adjust(left=0.081, right=0.985, top=0.965, bottom=0.059)
plt.savefig("out.png", dpi=100)
